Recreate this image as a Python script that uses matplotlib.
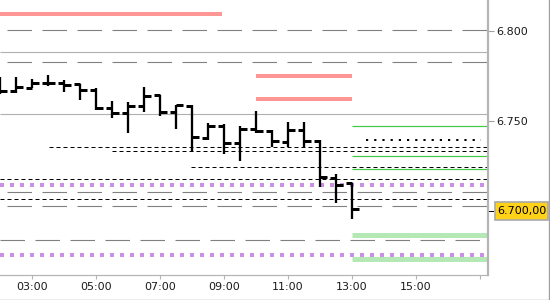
import matplotlib
matplotlib.use("Agg")
import matplotlib.pyplot as plt
import matplotlib.transforms as mtransforms
from matplotlib.lines import Line2D
from matplotlib.ticker import FixedLocator, FixedFormatter

plt.rcParams['font.family'] = ['DejaVu Sans']
plt.rcParams['lines.scale_dashes'] = False

# ---------------- data ----------------
# bar times in hours (02:00 .. 13:00, every 30 min)
bar_times = [2.0, 2.5, 3.0, 3.5, 4.0, 4.5, 5.0, 5.5, 6.0, 6.5, 7.0, 7.5,
             8.0, 8.5, 9.0, 9.5, 10.0, 10.5, 11.0, 11.5, 12.0, 12.5, 13.0]
opens = [6768.3, 6766.8, 6768.5, 6770.9, 6770.9, 6770.4, 6767.1, 6757.1, 6754.6, 6758.3, 6764.4, 6754.8,
         6758.3, 6740.4, 6747.2, 6737.6, 6745.4, 6744.4, 6738.3, 6745.0, 6739.1, 6718.5, 6715.7]
highs = [6774.6, 6774.6, 6773.2, 6775.6, 6772.8, 6770.4, 6768.2, 6761.1, 6760.7, 6769.1, 6764.4, 6758.9,
         6758.7, 6749.1, 6748.1, 6747.2, 6755.6, 6745.0, 6749.4, 6749.4, 6739.4, 6720.6, 6715.7]
lows = [6764.8, 6765.4, 6768.2, 6769.6, 6766.3, 6761.7, 6756.1, 6751.5, 6743.2, 6755.2, 6752.8, 6745.4,
        6732.9, 6739.4, 6731.4, 6727.9, 6743.2, 6735.7, 6735.7, 6735.7, 6713.5, 6704.3, 6695.4]
closes = [6766.8, 6768.9, 6771.3, 6770.9, 6770.0, 6767.1, 6757.1, 6754.6, 6758.3, 6764.1, 6754.8, 6758.7,
          6740.9, 6747.2, 6737.9, 6745.4, 6744.4, 6738.9, 6745.0, 6738.9, 6718.7, 6714.4, 6700.9]
current_price = 6700.00

# level lines
pink_top_level = [6809.4]
pink_top_span = (2.0, 8.95)
pink_mid_levels = [6774.8, 6762.1]
pink_mid_span = (10.0, 13.0)
gray_solid_levels = [6788.2, 6753.7]
gray_dash_levels_a = [6800.4, 6782.6, 6710.7, 6702.6]
gray_dash_levels_b = [6683.9]
green_thin_levels = [6747.1, 6730.6, 6723.2]
green_thick_levels = [6686.5, 6673.5]
future_start = 13.0
black_dotted_levels = [6739.6]
black_dotted_span = (13.45, 17.03)
black_dashed_levels = [6735.4, 6733.6, 6724.3, 6717.6, 6706.5]
black_dashed_starts = [3.53, 5.5, 7.97, 2.0, 2.0]
purple_levels = [6714.6, 6675.6]

x_ticks = [3, 5, 7, 9, 11, 13, 15, 17]
x_tick_labels = ["03:00", "05:00", "07:00", "09:00", "11:00", "13:00", "15:00", ""]
y_ticks = [6750, 6800]
x_range = (2.0, 17.25)
y_range = (6664.44, 6817.22)

# ---------------- figure ----------------
PX = 0.72  # points per pixel at dpi 100
W, H = 550, 300
fig = plt.figure(figsize=(W / 100, H / 100), dpi=100)
fig.patch.set_facecolor('white')
ax = fig.add_axes([0, 25 / H, 488 / W, 275 / H])
ax.set_xlim(*x_range)
ax.set_ylim(*y_range)
x_end = x_range[1] - 0.03


def hline(y, x0, x1, **kw):
    ax.plot([x0, x1], [y, y], solid_capstyle='butt', dash_capstyle='butt', **kw)


for y in pink_top_level:
    hline(y, *pink_top_span, color='#ff9696', lw=4 * PX)
for y in pink_mid_levels:
    hline(y, *pink_mid_span, color='#ff9696', lw=4 * PX)
for y in gray_solid_levels:
    hline(y, x_range[0], x_range[1], color='#b0b0b0', lw=1.1 * PX)
for y in gray_dash_levels_a:
    hline(y, x_range[0], x_end, color='#808080', lw=1.1 * PX,
          linestyle=(28 * PX, (24.5 * PX, 10.5 * PX)))
for y in gray_dash_levels_b:
    hline(y, x_range[0], x_end, color='#808080', lw=1.1 * PX,
          linestyle=(0, (24.5 * PX, 10.5 * PX)))
for y in green_thin_levels:
    hline(y, future_start, x_end, color='#44c944', lw=1.2 * PX)
for y in green_thick_levels:
    hline(y, future_start, x_end, color='#b4e8b4', lw=5 * PX)
for y in black_dotted_levels:
    hline(y, *black_dotted_span, color='black', lw=2 * PX,
          linestyle=(0, (2.2 * PX, 6 * PX)))
for y, x0 in zip(black_dashed_levels, black_dashed_starts):
    hline(y, x0, x_end, color='black', lw=1 * PX,
          linestyle=(0, (4 * PX, 3 * PX)))
for y in purple_levels:
    hline(y, x_range[0], x_end, color='#c990e6', lw=4 * PX,
          linestyle=(0, (4 * PX, 6 * PX)))

# OHLC bars
tick_len = 6.5 / 32.0
ax.vlines(bar_times, lows, highs, colors='black', lw=2.3 * PX, capstyle='butt', zorder=5)
ax.hlines(opens, [t - tick_len for t in bar_times], bar_times, colors='black',
          lw=3 * PX, capstyle='butt', zorder=5)
ax.hlines(closes, bar_times, [t + tick_len for t in bar_times], colors='black',
          lw=3 * PX, capstyle='butt', zorder=5)

# axes styling
for s in ('left', 'top'):
    ax.spines[s].set_visible(False)
ax.spines['bottom'].set_color('#b4b4b4')
ax.spines['bottom'].set_linewidth(1.2 * PX)
ax.spines['right'].set_color('#b4b4b4')
ax.spines['right'].set_linewidth(2.2 * PX)

ax.xaxis.set_major_locator(FixedLocator(x_ticks))
ax.xaxis.set_major_formatter(FixedFormatter(x_tick_labels))
ax.tick_params(axis='x', direction='out', length=3, width=0.8, color='#b4b4b4',
               labelsize=8, labelcolor='#1a1a1a', pad=2)
ax.yaxis.tick_right()
ax.set_yticks(y_ticks)
ax.set_yticklabels([f"{v:,.0f}".replace(',', '.') for v in y_ticks])
ax.tick_params(axis='y', direction='out', length=4, width=0.8, color='#a0a0a0',
               labelsize=8, labelcolor='#1a1a1a', pad=2)

# current price marker + label
trans = mtransforms.blended_transform_factory(ax.transAxes, ax.transData)
ax.plot([1.0, 1.0 + 5 / 488], [current_price, current_price], transform=trans,
        color='black', lw=1 * PX, clip_on=False)
price_txt = f"{current_price:,.2f}".replace(',', 'X').replace('.', ',').replace('X', '.')
ax.annotate(price_txt, xy=(1.0, current_price), xycoords=trans,
            xytext=(6.6, 0), textcoords='offset points', ha='left', va='center',
            fontsize=8, color='black', annotation_clip=False,
            bbox=dict(boxstyle='square,pad=0.18', mutation_aspect=2.0,
                      fc='#ffd21a', ec='#a8a8a8', lw=1.2))

# window frame (right and bottom)
fig.add_artist(Line2D([0, 548.5 / W], [0.5 / H, 0.5 / H], transform=fig.transFigure,
                      color='#a0a0a0', lw=1.4 * PX))
fig.add_artist(Line2D([548.5 / W, 548.5 / W], [0, 1], transform=fig.transFigure,
                      color='#a0a0a0', lw=1.4 * PX))

fig.savefig('out.png', dpi=100, facecolor='white')
